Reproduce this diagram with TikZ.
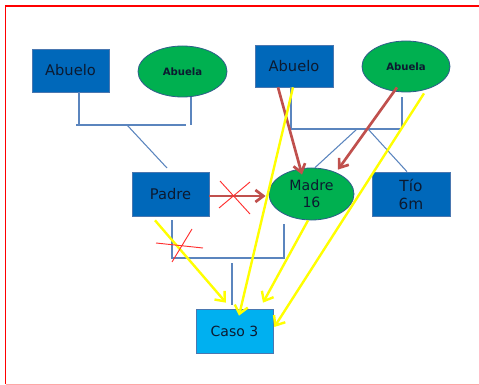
\documentclass[tikz,border=0pt]{standalone}
\usepackage{fontspec}
\setmainfont{DejaVu Sans}
\usetikzlibrary{arrows.meta,calc,shapes.geometric}
\definecolor{boxblue}{HTML}{0068BA}
\definecolor{boxedge}{HTML}{4A77B0}
\definecolor{ellgreen}{HTML}{00B050}
\definecolor{elledge}{HTML}{2F5C8A}
\definecolor{casoblue}{HTML}{00B0F0}
\definecolor{linkblue}{HTML}{5B85BE}
\definecolor{arrred}{HTML}{C0504D}
\definecolor{crossred}{HTML}{FF3030}
\definecolor{yel}{HTML}{FFFF00}
\definecolor{txt}{HTML}{0C1A30}
\definecolor{frame}{HTML}{FF0000}
\tikzset{
  bluebox/.style={rectangle, draw=boxedge, fill=boxblue, line width=0.5pt, text=txt,
    inner sep=0pt, font=\fontsize{11}{13}\selectfont, align=center},
  greenell/.style={ellipse, draw=elledge, fill=ellgreen, line width=0.6pt, text=txt,
    inner sep=0pt, align=center},
  bracket/.style={draw=linkblue, line width=1.6pt},
  thinlink/.style={draw=linkblue, line width=0.8pt},
  redarrow/.style={draw=arrred, line width=2pt, -{Straight Barb[length=6pt,width=9pt]}},
  yelarrow/.style={draw=yel, line width=1.8pt, -{Straight Barb[length=6pt,width=10pt]}},
  cross/.style={draw=crossred, line width=0.7pt},
}
\begin{document}
\begin{tikzpicture}[x=0.75pt,y=-0.75pt]
\useasboundingbox (0,0) rectangle (479,385);
\clip (0,0) rectangle (479,385);
% frame
\draw[frame, line width=1.4pt] (5.5,384) -- (5.5,6) -- (490,6);
\draw[frame!35, line width=1.2pt] (5.5,384.3) -- (490,384.3);

% bracket coordinates
\coordinate (la) at (79,125);
\coordinate (lb) at (191,125);
\coordinate (lh1) at (76,125);
\coordinate (lh2) at (186,125);
\coordinate (ld1) at (127,125);
\coordinate (ld2) at (167,168);
\coordinate (ra) at (291,129);
\coordinate (rb) at (402,129);
\coordinate (rd1) at (357,129);
\coordinate (rd2) at (368,129);
\coordinate (ma1) at (172,220);
\coordinate (ma2) at (172,258);
\coordinate (mb1) at (284,224);
\coordinate (mb2) at (284,258);
\coordinate (mc1) at (232,263);
\coordinate (mc2) at (232,305);

% nodes
\node[bluebox, minimum width=57.75pt, minimum height=32.25pt] (ab1) at (70.5,70.5) {Abuelo};
\node[greenell, minimum width=66.75pt, minimum height=38.25pt, font=\bfseries\fontsize{7.6}{9}\selectfont] (aa1) at (182.5,71.5) {Abuela};
\node[bluebox, minimum width=58.5pt, minimum height=31.5pt] (ab2) at (294,66) {Abuelo};
\node[greenell, minimum width=66pt, minimum height=38.25pt, font=\bfseries\fontsize{7.6}{9}\selectfont] (aa2) at (406,66.5) {Abuela};
\node[bluebox, minimum width=57.75pt, minimum height=33pt] (padre) at (170.5,194) {Padre};
\node[greenell, minimum width=63.75pt, minimum height=39pt, font=\fontsize{10.6}{12.8}\selectfont] (madre) at (311.5,194) {Madre\\16};
\node[bluebox, minimum width=58.5pt, minimum height=33pt, font=\fontsize{11.5}{13.5}\selectfont] (tio) at (411,194) {Tío\\6m};
\node[bluebox, fill=casoblue, minimum width=57.75pt, minimum height=33pt, font=\fontsize{10.5}{12.5}\selectfont] (caso) at (234.5,331) {Caso 3};

% blue family links
\begin{scope}[on background layer/.try]
\end{scope}
\draw[bracket] (ab1.south -| la) -- (la);
\draw[bracket] (aa1.south -| lb) -- (lb);
\draw[bracket] (lh1) -- (lh2);
\draw[thinlink] (ld1) -- (ld2);
\draw[bracket] (ab2.south -| ra) -- (ra);
\draw[bracket] ($(aa2.south -| rb)+(0,5)$) -- (rb);
\draw[bracket] (ra) -- (rb);
\draw[thinlink] (rd1) -- ($(madre.north)+(3.5,0)$);
\draw[thinlink] (rd2) -- ($(tio.north)+(-4,0)$);
\draw[bracket] (ma1) -- (ma2) -- (mb2) -- (mb1);
\draw[thinlink] (mc1) -- (mc2);

% red arrows
\draw[redarrow] ($(ab2.south)+(-16,0)$) -- ($(madre.north)+(-9.5,7)$);
\draw[redarrow] ($(aa2.south)+(-9,-5)$) -- ($(madre.north)+(26.5,2)$);
\draw[redarrow] ($(padre.east)+(0,2)$) -- ($(madre.west)+(-3,2)$);

% yellow arrows
\draw[yelarrow] ($(padre.south)+(-15.5,4)$) -- ($(caso.north)+(-8.5,-6)$);
\draw[yelarrow] ($(ab2.south)+(-1,0)$) -- ($(caso.north)+(4.5,7)$);
\draw[yelarrow] ($(madre.south)+(-3.5,0)$) -- ($(caso.north)+(28.5,-6)$);
\draw[yelarrow] ($(aa2.south)+(18,1)$) -- ($(caso.east)+(1,-4)$);

% red crosses
\draw[cross] (220,181) -- (250,214);
\draw[cross] (250,182) -- (219,208);
\draw[cross] (156,243) -- (203,248);
\draw[cross] (192,229) -- (172,262);
\end{tikzpicture}
\end{document}
